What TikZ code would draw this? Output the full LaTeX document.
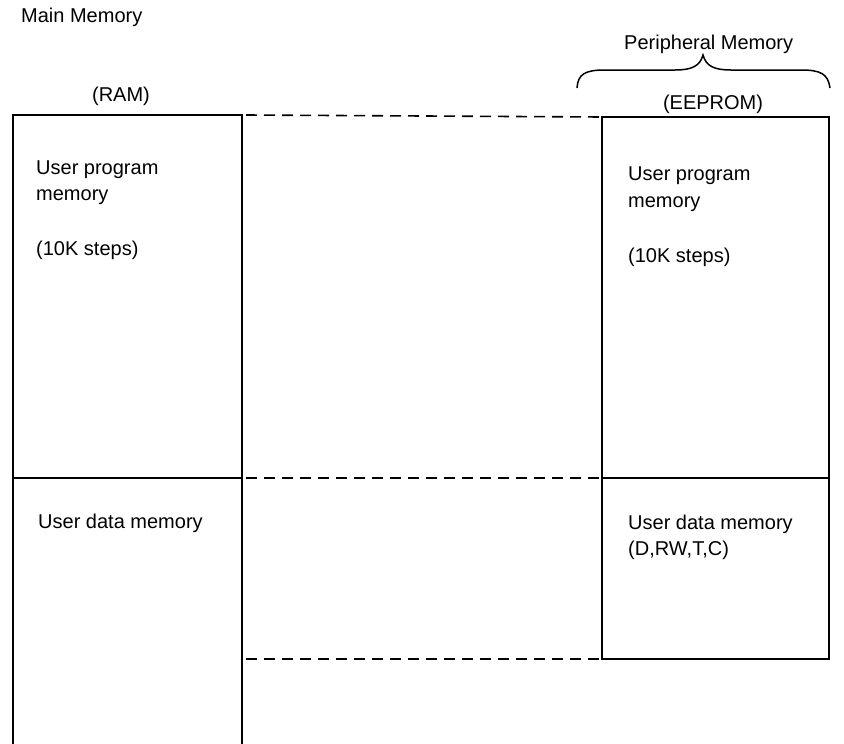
\documentclass[tikz,border=0pt]{standalone}
\usepackage{fontspec}
\setmainfont{Liberation Sans}
\begin{document}
\begin{tikzpicture}[x=1pt,y=-1pt,
  wall/.style={line width=1.5pt,line cap=rect},
  dashline/.style={line width=1.6pt,dash pattern=on 11pt off 7pt},
  lbl/.style={inner sep=0pt,anchor=base west,font=\fontsize{20}{24}\selectfont},
  lblc/.style={inner sep=0pt,anchor=base,font=\fontsize{20}{24}\selectfont}]
\useasboundingbox (0,0) rectangle (844,744);
% coordinates
\coordinate (LTL) at (13,115);
\coordinate (LTR) at (242,115);
\coordinate (LBL) at (13,744);
\coordinate (LBR) at (242,744);
\coordinate (LML) at (13,478);
\coordinate (LMR) at (242,478);
\coordinate (LBD) at (242,659);
\coordinate (RTL) at (602,117);
\coordinate (RTR) at (829,117);
\coordinate (RML) at (602,478);
\coordinate (RMR) at (829,478);
\coordinate (RBL) at (602,659);
\coordinate (RBR) at (829,659);
% left box (open at the bottom)
\draw[wall] (LBL) -- (LTL) -- (LTR) -- (LBR);
\draw[wall] (LML) -- (LMR);
% right box
\draw[wall] (RTL) rectangle (RBR);
\draw[wall] (RML) -- (RMR);
% dashed connections
\draw[dashline] (LTR) ++(4,0) -- (RTL);
\draw[dashline] (LMR) ++(4,0) -- (RML);
\draw[dashline] (LBD) ++(4,0) -- (RBL);
% brace
\coordinate (BL) at (577,88);
\coordinate (BT) at (703,55);
\coordinate (BR) at (830,88);
\draw[line width=1.5pt] (BL) .. controls (578,74) and (585,70) .. (605,70)
  -- (675,70) .. controls (692,70) and (700,66) .. (BT)
  .. controls (706,66) and (714,70) .. (731,70)
  -- (801,70) .. controls (821,70) and (828,74) .. (BR);
% labels
\node[lbl] (mainmem) at (21,22) {Main Memory};
\node[lbl] (perimem) at (624,49) {Peripheral Memory};
\node[lblc] (ram) at (121,101) {(RAM)};
\node[lblc] (eeprom) at (713,109) {(EEPROM)};
\node[lbl] (lp1) at (36,174) {User program};
\node[lbl] (lp2) at (36,200) {memory};
\node[lbl] (lp3) at (36,255) {(10K steps)};
\node[lbl] (rp1) at (628,180) {User program};
\node[lbl] (rp2) at (628,207) {memory};
\node[lbl] (rp3) at (628,262) {(10K steps)};
\node[lbl] (ld) at (38,528) {User data memory};
\node[lbl] (rd1) at (628,529) {User data memory};
\node[lbl] (rd2) at (628,555) {(D,RW,T,C)};
\end{tikzpicture}
\end{document}
